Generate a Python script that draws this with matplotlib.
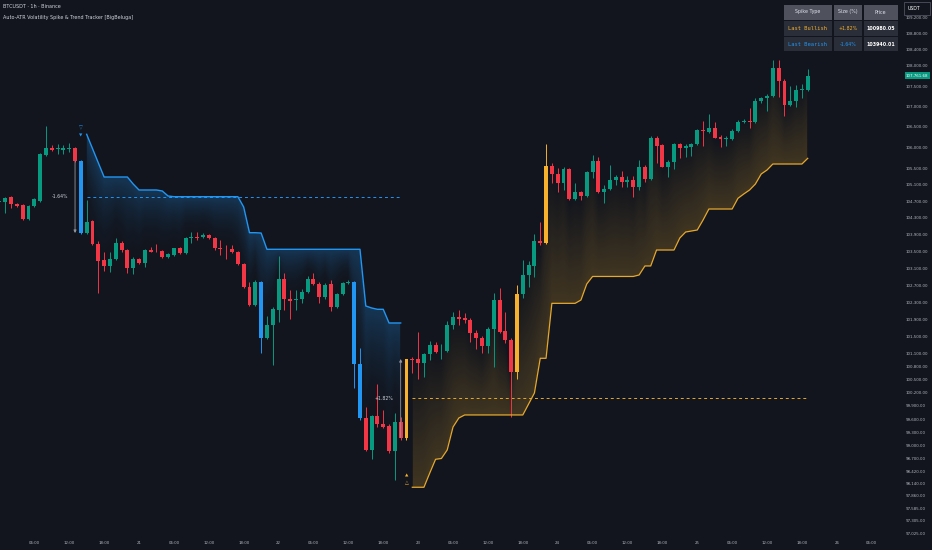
import numpy as np
import matplotlib.pyplot as plt
from matplotlib.patches import Rectangle
from matplotlib.colors import to_rgba
from matplotlib.ticker import NullLocator

# ---- data (BTCUSDT 1h, bar 0 = 20th 00:00) ----
opens = [104675, 104690, 104795, 104641, 104610, 104268, 104586, 104713, 105817, 105979,
         105955, 105945, 105962, 105994, 105673, 103933, 104227, 103672, 103292, 103165,
         103316, 103711, 103536, 103103, 103316, 103235, 103536, 103520, 103512, 103378,
         103418, 103576, 103458, 103814, 103845, 103853, 103886, 103814, 103583, 103567,
         103567, 103489, 103197, 102654, 102239, 102787, 101461, 101772, 102122, 102851,
         102387, 102356, 102372, 102551, 102858, 102733, 102419, 102726, 102200, 102497,
         102749, 102780, 100865, 99617, 98896, 99660, 99487, 99441, 98880, 99539,
         99175, 100988, 100973, 100895, 101096, 101298, 101158, 101166, 101772, 101951,
         101927, 101888, 101578, 101461, 101282, 101678, 102356, 101632, 101422, 100687,
         102497, 102945, 103158, 103750, 103696, 105550, 105357, 105132, 105469, 104754,
         104930, 104834, 105397, 105671, 104930, 104995, 105212, 105292, 105171, 105212,
         105051, 105534, 105236, 106237, 106059, 105534, 105655, 106084, 105994, 106018,
         106084, 106425, 106384, 106482, 106246, 106205, 106205, 106408, 106620, 106652,
         106620, 107143, 107201, 107258, 107940, 107635, 107037, 107143, 107406, 107406]
highs = [104771, 104810, 104819, 104665, 104627, 104610, 104771, 105858, 106530, 106059,
         106076, 106059, 106100, 106018, 105695, 104730, 104244, 103750, 103496, 103496,
         103829, 103750, 103553, 103378, 103354, 103560, 103615, 103672, 103536, 103458,
         103591, 103615, 103853, 103972, 103957, 103933, 103917, 103837, 103774, 103655,
         103655, 103520, 103221, 102787, 102827, 102811, 101981, 102185, 103394, 103000,
         102591, 102591, 102608, 102922, 102985, 102787, 102749, 102827, 102527, 102787,
         102827, 102811, 101228, 99882, 99693, 100404, 99807, 99487, 99745, 99643,
         100990, 101019, 101616, 101127, 101406, 101383, 101329, 101872, 102083, 102122,
         102060, 101927, 101655, 101515, 101732, 102513, 102631, 102083, 101461, 102709,
         103299, 103283, 103917, 104210, 106084, 105615, 105494, 105518, 105494, 105132,
         104954, 105437, 105817, 105776, 105092, 105574, 105333, 105437, 105308, 105308,
         105695, 105574, 106278, 106278, 106084, 105695, 106115, 106115, 106076, 106115,
         106442, 106652, 106816, 106628, 106303, 106278, 106442, 106669, 106686, 106955,
         107201, 107242, 107307, 108147, 108147, 107669, 107504, 107529, 107554, 107916]
lows = [104651, 104411, 104531, 104569, 104251, 104251, 104569, 104675, 105800, 105914,
        105834, 105834, 105897, 105639, 103909, 103909, 103655, 102520, 103039, 103023,
        103292, 103481, 102985, 102961, 103197, 103141, 103481, 103481, 103354, 103354,
        103401, 103434, 103434, 103696, 103781, 103814, 103790, 103536, 103418, 103316,
        103458, 103174, 102631, 102216, 102216, 101127, 101438, 100842, 101849, 102122,
        101904, 102122, 102293, 102527, 102709, 102278, 102387, 102106, 102169, 102474,
        102733, 100305, 99578, 98880, 98685, 99426, 99388, 98821, 98218, 99123,
        99123, 100650, 100512, 100573, 100958, 101112, 100973, 101150, 101671, 101772,
        101810, 101383, 101205, 101127, 101127, 100803, 101578, 101344, 99640, 100512,
        102395, 102670, 102906, 103655, 103672, 105132, 104930, 104971, 104730, 104730,
        104730, 104810, 105253, 104906, 104651, 104971, 105092, 105051, 105051, 104810,
        104971, 105171, 105212, 105615, 105518, 105292, 105469, 105736, 105760, 105792,
        106059, 106035, 106344, 106222, 106018, 106035, 106181, 106384, 106588, 106466,
        106588, 107094, 106897, 107226, 107226, 106767, 107012, 106980, 107201, 107389]
closes = [104713, 104785, 104627, 104593, 104268, 104593, 104747, 105834, 105979, 105945,
          105979, 105994, 105979, 105671, 103940.01, 104210, 103672, 103275, 103165, 103323,
          103711, 103536, 103103, 103316, 103235, 103536, 103496, 103505, 103378, 103434,
          103576, 103458, 103829, 103845, 103814, 103893, 103814, 103576, 103553, 103553,
          103489, 103197, 102654, 102239, 102787, 101461, 101772, 102138, 102851, 102380,
          102340, 102387, 102551, 102858, 102733, 102419, 102709, 102200, 102497, 102749,
          102780, 100865, 99617, 98896, 99660, 99487, 99426, 98880, 99539, 99162,
          100980.05, 100958, 100895, 101096, 101305, 101150, 101172, 101772, 101951, 101918,
          101888, 101578, 101461, 101282, 101678, 102356, 101616, 101422, 100687, 102497,
          102945, 103181, 103750, 103696, 105550, 105357, 105132, 105469, 104754, 104930,
          104834, 105412, 105671, 104930, 104995, 105212, 105292, 105171, 105212, 105051,
          105534, 105236, 106237, 106042, 105534, 105655, 106084, 105994, 106035, 106084,
          106425, 106393, 106482, 106237, 106198, 106237, 106408, 106628, 106652, 106620,
          107143, 107201, 107258, 107940, 107635, 107037, 107143, 107406, 107431, 107761.68]

bear_spikes = [14, 45, 61, 62]
bull_spikes = [70, 89, 94]
last_bear = 14
last_bull = 70

bear_start = 15
bear_trend = [106320, 105974, 105627, 105284, 105284, 105284, 105284, 105284, 105115, 104971,
              104971, 104971, 104971, 104947, 104826, 104810, 104810, 104810, 104810, 104810,
              104810, 104810, 104810, 104810, 104810, 104810, 104810, 104562, 103948, 103948,
              103940, 103553, 103553, 103553, 103553, 103553, 103553, 103553, 103553, 103553,
              103553, 103553, 103553, 103553, 103553, 103553, 103553, 103553, 102216, 102169,
              102138, 102138, 101818, 101818, 101818]
bull_start = 71
bull_trend = [98054, 98054, 98054, 98375, 98685, 98703, 98896, 99418, 99624, 99693,
              99693, 99693, 99693, 99693, 99693, 99693, 99693, 99693, 99693, 99693,
              99944, 100197, 100997, 100997, 102278, 102278, 102278, 102278, 102278, 102356,
              102733, 102910, 102910, 102910, 102910, 102910, 102910, 102910, 102910, 102945,
              103158, 103158, 103536, 103536, 103536, 103536, 103822, 103964, 103988, 104012,
              104251, 104514, 104514, 104514, 104514, 104514, 104771, 104875, 104971, 105115,
              105357, 105453, 105598, 105598, 105598, 105598, 105598, 105598, 105736]

price_ticks = [109200, 108800, 108400, 108000, 107500, 107000, 106500, 106000, 105500, 105100,
               104700, 104300, 103900, 103500, 103100, 102700, 102300, 101900, 101500, 101100,
               100800, 100500, 100200, 99900, 99600, 99300, 99000, 98700, 98420, 98140,
               97860, 97585, 97305, 97025]
time_ticks = [6, 12, 18, 24, 30, 36, 42, 48, 54, 60, 66, 72, 78, 84, 90, 96, 102, 108, 114,
              120, 126, 132, 138, 144, 150]
time_labels = ['06:00', '12:00', '18:00', '21', '06:00', '12:00', '18:00', '22', '06:00',
               '12:00', '18:00', '23', '06:00', '12:00', '18:00', '24', '06:00', '12:00',
               '18:00', '25', '06:00', '12:00', '18:00', '26', '06:00']

BG = '#12151e'
GREEN = '#089981'
RED = '#f23645'
BLUE = '#2196f3'
ORANGE = '#f7b12d'
GOLD = '#e6a92c'
GRAY = '#9598a1'
TXT = '#d1d4dc'

W, H = 932, 550
fig = plt.figure(figsize=(W / 100, H / 100), dpi=100)
fig.patch.set_facecolor(BG)
ax = fig.add_axes([0, 13 / H, 897 / W, 537 / H])
ax.set_facecolor(BG)
ax.set_yscale('log')
XLIM = (0.096, 154.35)
YLIM = (96942, 109645)
ax.set_xlim(*XLIM)
ax.set_ylim(*YLIM)

o = np.array(opens, float)
hi = np.array(highs, float)
lo = np.array(lows, float)
c = np.array(closes, float)
bars = np.arange(len(o))

cols = []
for i in bars:
    if i in bear_spikes:
        cols.append(BLUE)
    elif i in bull_spikes:
        cols.append(ORANGE)
    elif c[i] >= o[i]:
        cols.append(GREEN)
    else:
        cols.append(RED)

bx = np.arange(bear_start, bear_start + len(bear_trend))
ux = np.arange(bull_start, bull_start + len(bull_trend))

# gradient fill between trend line and closes, rendered as an image in axes space
nx, ny = 897 * 2, 537
inv = ax.transData.inverted()
xd = inv.transform(ax.transAxes.transform(
    np.column_stack([(np.arange(nx) + 0.5) / nx, np.full(nx, 0.5)])))[:, 0]
yd = inv.transform(ax.transAxes.transform(
    np.column_stack([np.full(ny, 0.5), (np.arange(ny) + 0.5) / ny])))[:, 1]
img = np.zeros((ny, nx, 4))
fills = ((bx, bear_trend, BLUE, 0.26, 2.0), (ux, bull_trend, GOLD, 0.22, 1.0))
for xs, line, color, a0, pw in fills:
    m = (xd >= xs[0]) & (xd <= xs[-1])
    lv = np.interp(xd[m], xs, line)
    ev = np.interp(xd[m], xs, c[xs])
    t = (lv[None, :] - yd[:, None]) / (lv - ev)[None, :]
    a = np.where((t >= 0) & (t <= 1), a0 * np.clip(1 - t, 0, 1) ** pw, 0)
    rgb = to_rgba(color)[:3]
    sub = img[:, m]
    for k in range(3):
        sub[..., k] = np.where(a > 0, rgb[k], sub[..., k])
    sub[..., 3] = np.maximum(sub[..., 3], a)
    img[:, m] = sub
ax.imshow(img, extent=(0, 1, 0, 1), transform=ax.transAxes, origin='lower',
          aspect='auto', interpolation='bilinear', zorder=1)
ax.set_xlim(*XLIM)
ax.set_ylim(*YLIM)

ax.plot(bx, bear_trend, color=BLUE, lw=1.0, zorder=5)
ax.plot(ux, bull_trend, color=GOLD, lw=0.9, zorder=5)

# spike mid levels
bear_mid = (o[last_bear] + c[last_bear]) / 2
bull_mid = (o[last_bull] + c[last_bull]) / 2
ax.plot([bear_start, bx[-1]], [bear_mid, bear_mid], color=BLUE, lw=0.7, ls=(0, (3, 3)), zorder=2)
ax.plot([bull_start, ux[-1]], [bull_mid, bull_mid], color=GOLD, lw=0.7, ls=(0, (3, 3)), zorder=2)

# candles
ax.vlines(bars, lo, hi, colors=cols, lw=0.7, zorder=3)
ax.bar(bars, np.maximum(np.abs(c - o), 18), bottom=np.minimum(o, c), width=0.68,
       color=cols, lw=0, zorder=4)

# spike arrows and size labels
for k in (last_bear, last_bull):
    ax.annotate('', xy=(k - 1, c[k]), xytext=(k - 1, o[k]),
                arrowprops=dict(arrowstyle='-|>', color=GRAY, lw=0.6,
                                mutation_scale=4, shrinkA=0, shrinkB=0), zorder=6)
    pct = (c[k] - o[k]) / o[k] * 100
    ax.text(k - 2.2, (o[k] + c[k]) / 2, f'{pct:+.2f}%', color=TXT, fontsize=3.3,
            ha='right', va='center', zorder=6)

ax.annotate('\u25bd', xy=(last_bear, hi[last_bear]), xytext=(0, 22.8), textcoords='offset points',
            color=BLUE, fontsize=3.6, ha='center', va='center', zorder=6)
ax.annotate('\u25bc', xy=(last_bear, hi[last_bear]), xytext=(0, 17.5), textcoords='offset points',
            color=BLUE, fontsize=3.2, ha='center', va='center', zorder=6)
ax.annotate('\u25b2', xy=(last_bull, lo[last_bull]), xytext=(0, -25.7), textcoords='offset points',
            color=ORANGE, fontsize=3.2, ha='center', va='center', zorder=6)
ax.annotate('\u25b3', xy=(last_bull, lo[last_bull]), xytext=(0, -30.7), textcoords='offset points',
            color=ORANGE, fontsize=3.6, ha='center', va='center', zorder=6)

# axes
for s in ax.spines.values():
    s.set_visible(False)
ax.yaxis.tick_right()
ax.yaxis.set_minor_locator(NullLocator())
ax.set_yticks(price_ticks)
ax.set_yticklabels([f'{p:,.2f}' for p in price_ticks])
ax.set_xticks(time_ticks)
ax.set_xticklabels(time_labels)
ax.tick_params(axis='y', colors='#b2b5be', labelsize=2.9, length=0, pad=6)
ax.tick_params(axis='x', colors='#b2b5be', labelsize=2.8, length=0, pad=3)

# last price tag
ax.text(906 / 897, c[-1], f'{c[-1]:,.2f}', transform=ax.get_yaxis_transform(),
        color='white', fontsize=2.9, ha='left', va='center', zorder=8,
        bbox=dict(boxstyle='square,pad=0.3', fc=GREEN, ec='none'))

# titles
fig.text(3 / W, 1 - 7 / H, 'BTCUSDT \u00b7 1h \u00b7 Binance', color=TXT, fontsize=3.5,
         ha='left', va='center')
fig.text(3 / W, 1 - 17 / H, 'Auto-ATR Volatility Spike & Trend Tracker [BigBeluga]', color=TXT,
         fontsize=3.55, ha='left', va='center')


def cell(x0, y0, x1, y1, fc, text, tc, fs=3.4, family='DejaVu Sans', weight='normal'):
    fig.add_artist(Rectangle((x0 / W, 1 - y1 / H), (x1 - x0) / W, (y1 - y0) / H,
                             transform=fig.transFigure, fc=fc, ec='none', zorder=10))
    fig.text((x0 + x1) / 2 / W, 1 - (y0 + y1) / 2 / H, text, color=tc, fontsize=fs,
             family=family, weight=weight, ha='center', va='center', zorder=11)


colx = [(784, 832), (833.5, 862), (863.5, 898)]
rowy = [(4.5, 19.5), (21, 35.5), (37, 51)]
heads = ['Spike Type', 'Size (%)', 'Price']
for (x0, x1), t in zip(colx, heads):
    cell(x0, rowy[0][0], x1, rowy[0][1], '#4f525d', t, '#e0e3eb')
rows = [('Last Bullish', last_bull, ORANGE), ('Last Bearish', last_bear, BLUE)]
for (name, k, col), (y0, y1) in zip(rows, rowy[1:]):
    pct = (c[k] - o[k]) / o[k] * 100
    cell(colx[0][0], y0, colx[0][1], y1, '#2a2e39', name, col, fs=3.9, family='DejaVu Sans Mono')
    cell(colx[1][0], y0, colx[1][1], y1, '#2a2e39', f'{pct:+.2f}%', col)
    cell(colx[2][0], y0, colx[2][1], y1, '#2a2e39', f'{c[k]:.2f}', 'white', weight='bold')

# currency box
fig.add_artist(Rectangle((904 / W, 1 - 15 / H), 26 / W, 13 / H, transform=fig.transFigure,
                         fc=BG, ec='#50535e', lw=0.6, zorder=12))
fig.text(908 / W, 1 - 8.5 / H, 'USDT', color='white', fontsize=3.3, ha='left', va='center',
         zorder=13)

fig.savefig('out.png', dpi=100, facecolor=BG)
